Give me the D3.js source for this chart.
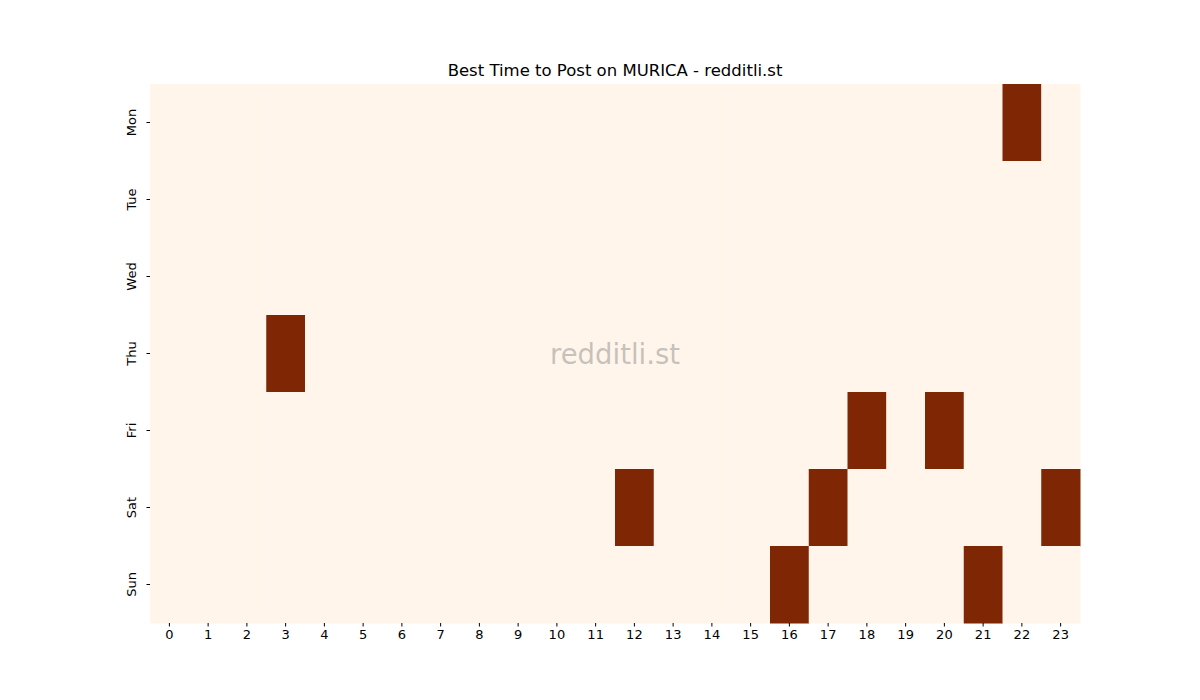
<!DOCTYPE html>
<html>
<head>
<meta charset="utf-8">
<script src="https://cdn.jsdelivr.net/npm/d3@7"></script>
<style>
  body { margin: 0; background: #fff; }
  text { font-family: "DejaVu Sans", sans-serif; }
</style>
</head>
<body>
<svg id="chart" width="1200" height="700"></svg>
<script>
const days = ["Mon", "Tue", "Wed", "Thu", "Fri", "Sat", "Sun"];
const hours = d3.range(24);

// best hours per day (cells that are marked)
const bestHours = {
  Mon: [22],
  Tue: [],
  Wed: [],
  Thu: [3],
  Fri: [18, 20],
  Sat: [12, 17, 23],
  Sun: [16, 21]
};

const cells = [];
days.forEach(d => {
  hours.forEach(h => {
    cells.push({ day: d, hour: h, value: bestHours[d].includes(h) ? 1 : 0 });
  });
});

const svg = d3.select("#chart");
const PLOT_LEFT = 150, PLOT_RIGHT = 1080, PLOT_TOP = 84, PLOT_BOTTOM = 623;

const x = d3.scaleBand().domain(hours).range([PLOT_LEFT, PLOT_RIGHT]);
const y = d3.scaleBand().domain(days).range([PLOT_TOP, PLOT_BOTTOM]);
const color = d3.scaleLinear().domain([0, 1]).range(["#fff5eb", "#7f2704"]);

svg.append("g")
  .selectAll("rect")
  .data(cells)
  .enter()
  .append("rect")
  .attr("x", c => x(c.hour))
  .attr("y", c => y(c.day))
  .attr("width", x.bandwidth() + 0.5)
  .attr("height", y.bandwidth() + 0.5)
  .attr("fill", c => color(c.value));

// axes
const xAxis = svg.append("g")
  .attr("transform", `translate(0,${PLOT_BOTTOM})`)
  .call(d3.axisBottom(x).tickSize(3.5).tickPadding(3.5));
xAxis.select(".domain").remove();
xAxis.selectAll("text").attr("font-size", "13px").attr("fill", "#000");

const yAxis = svg.append("g")
  .attr("transform", `translate(${PLOT_LEFT},0)`)
  .call(d3.axisLeft(y).tickSize(3.5).tickPadding(3.5));
yAxis.select(".domain").remove();
yAxis.selectAll("text")
  .attr("font-size", "13px")
  .attr("fill", "#000")
  .attr("text-anchor", "middle")
  .attr("dy", null)
  .attr("x", null)
  .attr("transform", "translate(-18.5,0) rotate(-90)")
  .attr("dominant-baseline", "central");

// title
svg.append("text")
  .attr("x", (PLOT_LEFT + PLOT_RIGHT) / 2)
  .attr("y", 76)
  .attr("text-anchor", "middle")
  .attr("font-size", "16.5px")
  .text("Best Time to Post on MURICA - redditli.st");

// watermark
svg.append("text")
  .attr("x", (PLOT_LEFT + PLOT_RIGHT) / 2)
  .attr("y", (PLOT_TOP + PLOT_BOTTOM) / 2)
  .attr("text-anchor", "middle")
  .attr("dominant-baseline", "central")
  .attr("font-size", "27.5px")
  .attr("fill", "#808080")
  .attr("fill-opacity", 0.45)
  .text("redditli.st");
</script>
</body>
</html>
